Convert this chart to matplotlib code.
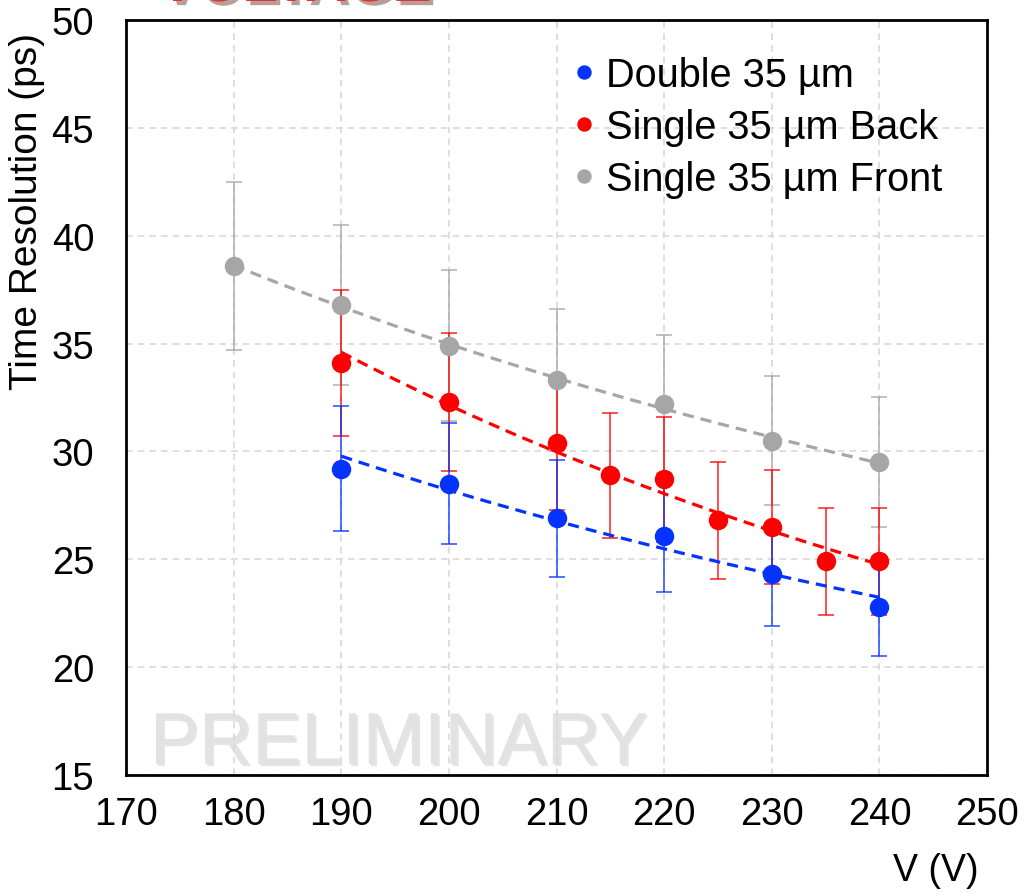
import matplotlib
matplotlib.use('Agg')
import matplotlib.pyplot as plt
import matplotlib.patheffects as pe
import numpy as np

plt.rcParams['font.family'] = ['Liberation Sans', 'DejaVu Sans']

# data
v_double = [190, 200, 210, 220, 230, 240]
t_double = [29.2, 28.5, 26.9, 26.1, 24.3, 22.8]
e_double = [2.9, 2.8, 2.7, 2.6, 2.4, 2.3]

v_back = [190, 200, 210, 215, 220, 225, 230, 235, 240]
t_back = [34.1, 32.3, 30.4, 28.9, 28.7, 26.8, 26.5, 24.9, 24.9]
e_back = [3.4, 3.2, 3.1, 2.9, 2.9, 2.7, 2.65, 2.5, 2.5]

v_front = [180, 190, 200, 210, 220, 230, 240]
t_front = [38.6, 36.8, 34.9, 33.3, 32.2, 30.5, 29.5]
e_front = [3.9, 3.7, 3.5, 3.3, 3.2, 3.0, 3.0]

labels = ['Double 35 µm', 'Single 35 µm Back', 'Single 35 µm Front']
colors = ['#0433FF', '#FF0000', '#A6A6A6']

fig = plt.figure(figsize=(10.25, 8.95), dpi=100)
ax = fig.add_axes([0.123, 0.133, 0.84, 0.8435])

series = [(v_double, t_double, e_double), (v_back, t_back, e_back), (v_front, t_front, e_front)]
zs = [4, 3, 2]
for (x, y, e), lab, c, z in zip(series, labels, colors, zs):
    ax.errorbar(x, y, yerr=e, fmt='none', ecolor=c, elinewidth=1.3, capsize=6,
                capthick=1.3, alpha=0.75, zorder=z)
    ax.plot(x, y, 'o', color=c, markersize=13, zorder=z + 5, label=lab)
    # power-law trend line
    p = np.polyfit(np.log(x), np.log(y), 1)
    xs = np.linspace(min(x), max(x), 50)
    ax.plot(xs, np.exp(p[1]) * xs ** p[0], '--', color=c, lw=2.3,
            dashes=(3.5, 2.2), zorder=z + 4)

ax.set_xlim(170, 250)
ax.set_ylim(15, 50)
ax.set_xticks(range(170, 251, 10))
ax.set_yticks(range(15, 51, 5))
ax.tick_params(labelsize=27.5, length=0)
ax.tick_params(axis='x', pad=15)
ax.tick_params(axis='y', pad=23)
ax.grid(True, color='#d9d9d9', linestyle=(0, (4, 3)), lw=1.2, zorder=0)
for s in ax.spines.values():
    s.set_linewidth(2)

fig.text(27 / 1025, 1 - 211 / 895, 'Time Resolution (ps)', fontsize=28, rotation=90,
         ha='center', va='center')
fig.text(0.913, 0.027, 'V (V)', fontsize=27, ha='center', va='center')

ax.text(150 / 1025, 1 - 765 / 895, 'PRELIMINARY', transform=fig.transFigure,
        fontsize=53, color='#e2e2e2', zorder=1,
        path_effects=[pe.SimplePatchShadow(offset=(1.5, -1.5), shadow_rgbFace='#cccccc', alpha=0.5),
                      pe.Normal()])

fig.text(158 / 1025, 1 - 2 / 895, 'VOLTAGE', fontsize=42, fontweight='bold', color='#E8312A',
         va='baseline',
         path_effects=[pe.SimplePatchShadow(offset=(3, -3), alpha=0.4), pe.Normal()])

ax.legend(loc='upper left', bbox_to_anchor=(0.465, 1.0), frameon=False, fontsize=28.6,
          handletextpad=0.0, handlelength=1.1, labelspacing=0.35, markerscale=0.72)

fig.savefig('out.png', dpi=100)
